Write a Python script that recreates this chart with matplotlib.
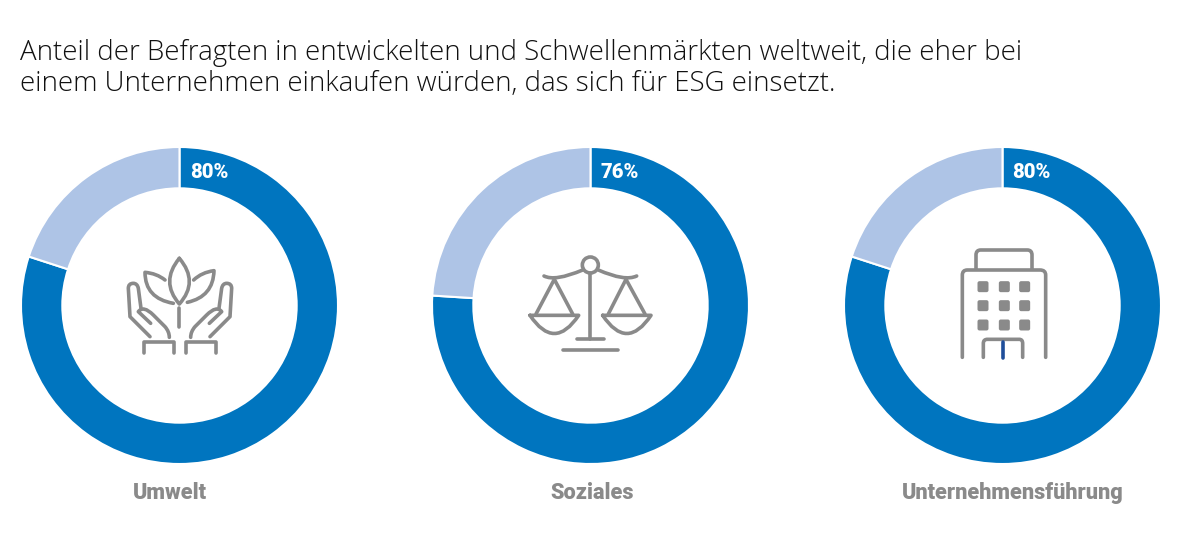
import matplotlib
matplotlib.use("Agg")
import matplotlib.pyplot as plt
from matplotlib.patches import PathPatch, Circle, FancyBboxPatch
from matplotlib.path import Path

# Data
categories = ["Umwelt", "Soziales", "Unternehmensführung"]
shares = [80, 76, 80]
title_lines = [
    "Anteil der Befragten in entwickelten und Schwellenmärkten weltweit, die eher bei",
    "einem Unternehmen einkaufen würden, das sich für ESG einsetzt.",
]

# Colours
blue = "#0075BF"
light_blue = "#AEC4E6"
grey = "#8A8A8A"
navy = "#1F4E9A"

W, H = 1192, 540
fig = plt.figure(figsize=(W / 100, H / 100), dpi=100, facecolor="white")

# Donuts, placed in pixels
centers = [179.5, 590.5, 1002.5]
cy = 305.5
R = 158.5
label_x = [170, 592, 1013]
pct_x = [209, 620, 1031]

for i, share in enumerate(shares):
    ax = fig.add_axes([(centers[i] - R) / W, 1 - (cy + R) / H, 2 * R / W, 2 * R / H])
    ax.pie([share, 100 - share], colors=[blue, light_blue], startangle=90, counterclock=False,
           radius=1, wedgeprops=dict(width=0.745 * 0.35, edgecolor="white", linewidth=1.5))
    ax.set_xlim(-1, 1)
    ax.set_ylim(-1, 1)

# Overlay in pixel coordinates for text and icons
ov = fig.add_axes([0, 0, 1, 1], facecolor="none")
ov.set_xlim(0, W)
ov.set_ylim(H, 0)
ov.axis("off")

ov.text(20, 53, title_lines[0], fontsize=19.9, family="Open Sans", weight="light", color="#111111", va="center")
ov.text(20, 84, title_lines[1], fontsize=19.9, family="Open Sans", weight="light", color="#111111", va="center")

for i, share in enumerate(shares):
    ov.text(pct_x[i], 173, f"{share}%", color="white", fontsize=14.5, family="Roboto", weight="black",
            ha="center", va="center")
    ov.text(label_x[i], 493, categories[i], color=grey, fontsize=15.6, family="Roboto", weight="black",
            ha="center", va="center")

LW = 2.6


def stroke(x0, y0, *parts, color=grey, lw=LW):
    # parts are lists of points in zoomed crop coordinates: 2 pts = line, 3 pts = quadratic curve
    verts, codes = [], []
    for part in parts:
        if part[0] == "M":
            verts.append(part[1])
            codes.append(Path.MOVETO)
        elif part[0] == "L":
            verts.append(part[1])
            codes.append(Path.LINETO)
        else:
            verts += [part[1], part[2]]
            codes += [Path.CURVE3, Path.CURVE3]
    verts = [(x0 + x / 3, y0 + y / 3) for x, y in verts]
    ov.add_patch(PathPatch(Path(verts, codes), fill=False, edgecolor=color, lw=lw,
                           capstyle="round", joinstyle="round"))


# Plant in hands
px, py = 110, 240
stroke(px, py, ("M", (208, 55)), ("Q", (150, 125), (208, 192)), ("Q", (268, 125), (208, 55)))
stroke(px, py, ("M", (165, 120)), ("Q", (140, 100), (105, 97)), ("Q", (105, 175), (190, 190)))
stroke(px, py, ("M", (251, 120)), ("Q", (275, 97), (312, 92)), ("Q", (310, 170), (232, 187)))
stroke(px, py, ("M", (208, 205)), ("L", (208, 262)))
for m in (0, 1):
    f = (lambda x: 420 - x) if m else (lambda x: x)
    stroke(px, py, ("M", (f(120), 290)), ("L", (f(60), 230)), ("L", (f(55), 145)),
           ("Q", (f(55), 130), (f(70), 130)), ("Q", (f(82), 130), (f(85), 145)), ("L", (f(93), 205)))
    stroke(px, py, ("M", (f(122), 250)), ("L", (f(85), 215)), ("Q", (f(100), 195), (f(130), 225)),
           ("L", (f(165), 260)), ("Q", (f(178), 275), (f(178), 292)))
    stroke(px, py, ("M", (f(103), 338)), ("L", (f(103), 305)), ("L", (f(192), 305)), ("L", (f(192), 338)))

# Scales
px, py = 520, 240
ov.add_patch(Circle((px + 211 / 3, py + 75 / 3), 24 / 3, fill=False, edgecolor=grey, lw=LW))
stroke(px, py, ("M", (211, 100)), ("L", (211, 298)))
stroke(px, py, ("M", (172, 298)), ("L", (252, 298)))
stroke(px, py, ("M", (130, 331)), ("L", (295, 331)))
stroke(px, py, ("M", (72, 108)), ("Q", (105, 125), (188, 90)))
stroke(px, py, ("M", (235, 90)), ("Q", (315, 125), (350, 108)))
for ax_x, a, b, c, d in ((103, 48, 158, 30, 176), (318, 265, 375, 248, 393)):
    stroke(px, py, ("M", (a, 222)), ("L", (ax_x, 118)), ("L", (b, 222)))
    stroke(px, py, ("M", (c, 226)), ("L", (d, 226)), ("Q", ((c + d) / 2, 335), (c, 226)))

# Building
px, py = 940, 240
stroke(px, py, ("M", (108, 88)), ("L", (108, 45)), ("Q", (108, 30), (122, 30)), ("L", (262, 30)),
       ("Q", (276, 30), (276, 45)), ("L", (276, 88)))
stroke(px, py, ("M", (67, 352)), ("L", (67, 105)), ("Q", (67, 90), (82, 90)), ("L", (300, 90)),
       ("Q", (317, 90), (317, 105)), ("L", (317, 352)))
stroke(px, py, ("M", (130, 352)), ("L", (130, 310)), ("Q", (130, 298), (142, 298)), ("L", (238, 298)),
       ("Q", (248, 298), (248, 310)), ("L", (248, 352)))
stroke(px, py, ("M", (188, 307)), ("L", (188, 353)), color=navy)
for wx in (129, 193, 254):
    for wy in (140, 197, 255):
        ov.add_patch(FancyBboxPatch((px + wx / 3 - 4, py + wy / 3 - 4), 8, 8,
                                    boxstyle="round,pad=1.5,rounding_size=2", facecolor=grey,
                                    edgecolor="none"))

plt.savefig("out.png", dpi=100)
